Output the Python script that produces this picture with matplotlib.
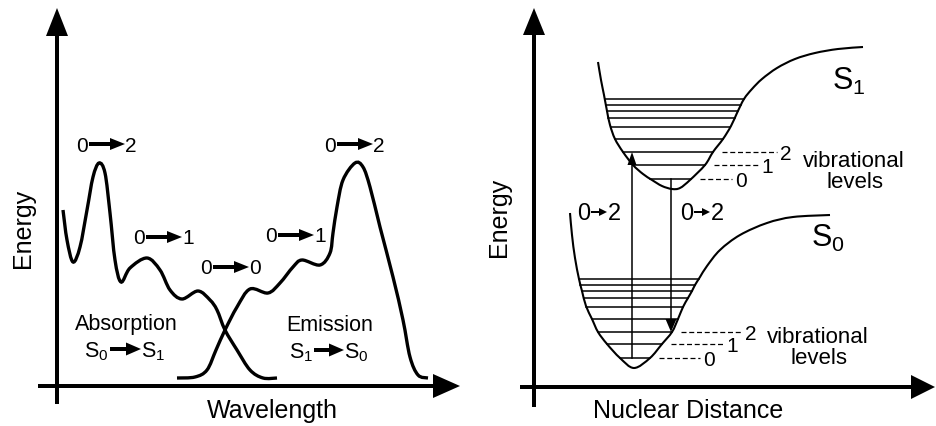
import numpy as np
import matplotlib.pyplot as plt
from matplotlib.path import Path
from matplotlib.patches import PathPatch, Polygon

plt.rcParams['font.family'] = ['Liberation Sans', 'DejaVu Sans']
plt.rcParams['mathtext.default'] = 'regular'

# Everything is laid out on a pixel canvas (x right, y down)
W, H = 937, 426

# absorption spectrum S0 -> S1
abs_x = [63, 67, 73, 80, 87, 93, 99, 105, 110, 115, 121, 130, 147, 160, 170, 182,
         198, 210, 217, 225, 237, 250, 263, 277]
abs_y = [210, 240, 262, 247, 210, 177, 163, 173, 213, 260, 282, 268, 258, 270, 290, 299,
         291, 300, 310, 330, 350, 370, 378, 378]

# emission spectrum S1 -> S0
em_x = [177, 195, 207, 216, 225, 237, 250, 268, 280, 293, 302, 320, 330, 333, 337, 343,
        355, 363, 370, 380, 393, 403, 410, 418, 428]
em_y = [378, 377, 370, 350, 330, 307, 289, 293, 283, 267, 260, 265, 253, 233, 207, 180,
        163, 167, 187, 227, 277, 320, 357, 375, 378]

# peak labels on the spectra: (arrow centre x, arrow y, from, to)
peak_labels = [(107, 144, '0', '2'), (164, 237, '0', '1'), (231, 267, '0', '0'),
               (296, 235, '0', '1'), (355, 144, '0', '2')]

# excited state S1 potential curve
s1_x = [598, 601, 604, 607, 610, 615, 623, 633, 643, 652, 662, 672,
        680, 690, 705, 713, 723, 731, 737, 744, 752, 762, 777, 795, 815, 838, 863]
s1_y = [62, 80, 95, 111, 125, 139, 152, 165, 174, 180, 186, 189,
        188, 180, 165, 152, 139, 126, 113, 99, 89, 79, 68, 59, 53, 49, 47]
s1_levels = [99, 105, 111, 118, 127, 139, 152, 165, 179]

# ground state S0 potential curve
s0_x = [570, 572, 575, 579, 582, 586, 592, 598, 607, 620, 634,
        650, 662, 672, 678, 683, 688, 692, 695, 700, 707, 720, 740, 767, 793, 830]
s0_y = [213, 235, 258, 279, 291, 306, 319, 332, 344, 358, 368,
        358, 344, 332, 319, 307, 298, 291, 285, 277, 266, 250, 235, 223, 217, 215]
s0_levels = [279, 285, 291, 298, 307, 319, 332, 344, 358]

# dashed markers for the lowest three levels: end x of the dashes
s1_dash_end = [732, 758, 777]
s0_dash_end = [700, 723, 742]
level_names = ['0', '1', '2']


def smooth(xs, ys):
    # Catmull-Rom through the points, drawn as cubic Bezier segments
    p = np.column_stack([xs, ys]).astype(float)
    n = len(p)
    verts = [p[0]]
    codes = [Path.MOVETO]
    for i in range(n - 1):
        a, b = p[max(i - 1, 0)], p[i]
        c, d = p[i + 1], p[min(i + 2, n - 1)]
        verts += [b + (c - a) / 6, c - (d - b) / 6, c]
        codes += [Path.CURVE4] * 3
    return Path(verts, codes)


def arrow(ax, p0, p1, shaft, head_len, head_w):
    p0 = np.asarray(p0, float)
    p1 = np.asarray(p1, float)
    u = (p1 - p0) / np.hypot(*(p1 - p0))
    nrm = np.array([-u[1], u[0]])
    hb = p1 - u * head_len
    pts = [p0 + nrm * shaft / 2, hb + nrm * shaft / 2, hb + nrm * head_w / 2, p1,
           hb - nrm * head_w / 2, hb - nrm * shaft / 2, p0 - nrm * shaft / 2]
    ax.add_patch(Polygon(pts, closed=True, fc='black', ec='none'))


def branches(xs, ys):
    i = int(np.argmax(ys))
    lx, ly = xs[:i + 1], ys[:i + 1]
    rx, ry = xs[i:][::-1], ys[i:][::-1]
    return (lx, ly), (rx, ry)


def well(ax, xs, ys, levels, dash_end):
    ax.add_patch(PathPatch(smooth(xs, ys), fc='none', ec='black', lw=1.5))
    (lx, ly), (rx, ry) = branches(xs, ys)
    for y in levels:
        ax.plot([np.interp(y, ly, lx), np.interp(y, ry, rx)], [y, y], color='black', lw=1.1)
    low = levels[::-1][:3]
    for k, (y, xe) in enumerate(zip(low, dash_end)):
        xs0 = np.interp(y, ry, rx) + 9
        ax.plot([xs0, xe], [y, y], color='black', lw=0.9, dashes=(4, 2.2))
        ax.text(xe + 3, y + 8, level_names[k], fontsize=15, ha='left', va='baseline')


fig = plt.figure(figsize=(W / 100, H / 100), dpi=100)
ax = fig.add_axes([0, 0, 1, 1])
ax.set_xlim(0, W)
ax.set_ylim(H, 0)
ax.axis('off')

# ---- left panel: spectra ----
arrow(ax, (57, 404), (57, 8), 4, 28, 22)
arrow(ax, (38, 386), (460, 386), 4, 27, 24)
ax.text(23, 228, 'Energy', fontsize=18, rotation=90, ha='center', va='center')
ax.text(272, 418, 'Wavelength', fontsize=18, ha='center', va='baseline')

ax.add_patch(PathPatch(smooth(abs_x, abs_y), fc='none', ec='black', lw=2.4))
ax.add_patch(PathPatch(smooth(em_x, em_y), fc='none', ec='black', lw=2.4))

for cx, cy, a, b in peak_labels:
    arrow(ax, (cx - 18, cy), (cx + 18, cy), 4, 15, 12)
    ax.text(cx - 19, cy + 7.5, a, fontsize=15, ha='right', va='baseline')
    ax.text(cx + 18.5, cy + 7.5, b, fontsize=15, ha='left', va='baseline')

ax.text(126, 330, 'Absorption', fontsize=15.5, ha='center', va='baseline')
arrow(ax, (110, 349), (141, 349), 4, 15, 13)
ax.text(108, 357, '$S_0$', fontsize=15.5, ha='right', va='baseline')
ax.text(141, 357, '$S_1$', fontsize=15.5, ha='left', va='baseline')

ax.text(330, 331, 'Emission', fontsize=15.5, ha='center', va='baseline')
arrow(ax, (314, 350), (344, 350), 4, 15, 13)
ax.text(313, 358, '$S_1$', fontsize=15.5, ha='right', va='baseline')
ax.text(344, 358, '$S_0$', fontsize=15.5, ha='left', va='baseline')

# ---- right panel: potential energy curves ----
arrow(ax, (534, 407), (534, 8), 4, 27, 22)
arrow(ax, (520, 387), (935, 387), 4, 24, 24)
ax.text(499, 217, 'Energy', fontsize=18, rotation=90, ha='center', va='center')
ax.text(688, 418, 'Nuclear Distance', fontsize=18, ha='center', va='baseline')

well(ax, s1_x, s1_y, s1_levels, s1_dash_end)
well(ax, s0_x, s0_y, s0_levels, s0_dash_end)

ax.text(832, 90, '$S_1$', fontsize=22, ha='left', va='baseline')
ax.text(811, 247, '$S_0$', fontsize=22, ha='left', va='baseline')

for cx, cy in [(854, 167), (818, 343)]:
    ax.text(cx, cy, 'vibrational', fontsize=16, ha='center', va='baseline')
    ax.text(cx + 1, cy + 21, 'levels', fontsize=16, ha='center', va='baseline')

# absorption 0 -> 2 (up) and emission 0 -> 2 (down)
x_up, x_down = 632, 671
ax.plot([x_up, x_up], [s0_levels[-1], s1_levels[-3] + 12], color='black', lw=1.1)
arrow(ax, (x_up, s1_levels[-3] + 13), (x_up, s1_levels[-3]), 0.5, 13, 9)
ax.plot([x_down, x_down], [s1_levels[-1], s0_levels[-3] - 12], color='black', lw=1.1)
arrow(ax, (x_down, s0_levels[-3] - 13), (x_down, s0_levels[-3]), 0.5, 13, 11)

for cx in [599, 702]:
    arrow(ax, (cx - 8, 212), (cx + 8, 212), 2, 8, 8)
    ax.text(cx - 9, 220, '0', fontsize=17, ha='right', va='baseline')
    ax.text(cx + 9, 220, '2', fontsize=17, ha='left', va='baseline')

fig.savefig('out.png', dpi=100)
